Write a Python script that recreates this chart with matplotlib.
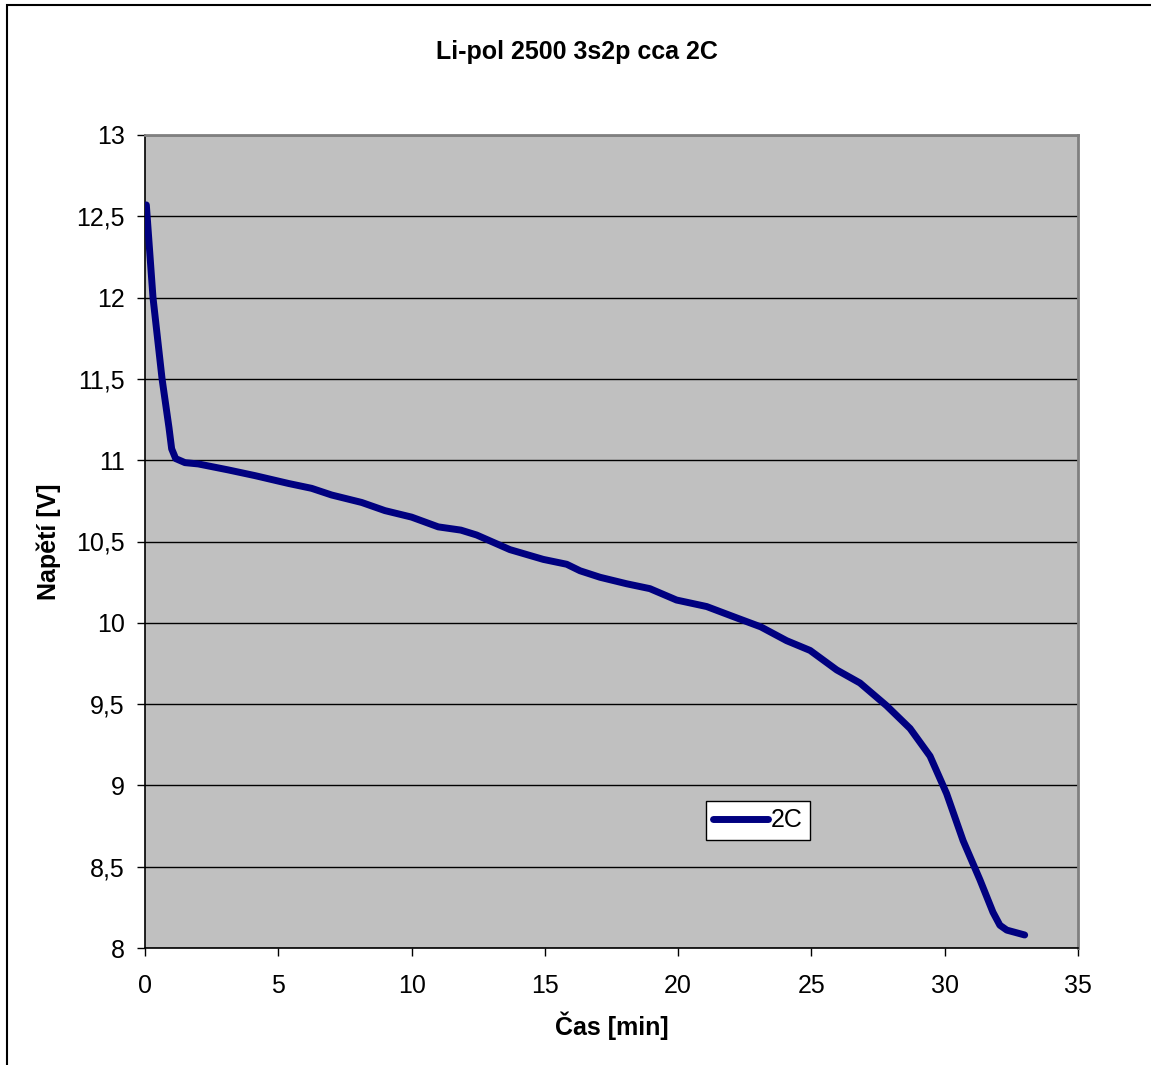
import numpy as np
import matplotlib.pyplot as plt
from matplotlib.patches import Rectangle
from matplotlib.ticker import FuncFormatter, MultipleLocator

# discharge curve
cas_min = [0.05, 0.3, 0.64, 0.9, 1.0, 1.15, 1.5, 2.0, 3.13, 4.13, 5.38, 6.25,
           7.0, 8.13, 9.0, 10.0, 11.0, 11.85, 12.44, 13.69, 14.94, 15.82,
           16.32, 17.07, 18.07, 18.94, 19.94, 21.07, 22.2, 23.1, 24.07, 24.95,
           25.95, 26.82, 27.82, 28.7, 29.45, 30.07, 30.69, 31.32, 31.81, 32.07,
           32.33, 33.0]
napeti_v = [12.57, 12.0, 11.5, 11.2, 11.07, 11.01, 10.985, 10.977, 10.94,
            10.905, 10.857, 10.827, 10.786, 10.74, 10.69, 10.65, 10.59, 10.57,
            10.54, 10.45, 10.39, 10.36, 10.32, 10.28, 10.24, 10.21, 10.14,
            10.10, 10.03, 9.975, 9.89, 9.83, 9.71, 9.63, 9.49, 9.35, 9.18,
            8.95, 8.66, 8.42, 8.22, 8.14, 8.11, 8.08]

plt.rcParams['font.family'] = ['Liberation Sans', 'DejaVu Sans']

fig = plt.figure(figsize=(11.51, 10.65), dpi=100)
ax = fig.add_axes([145/1151, 1 - 948/1065, 933/1151, 813/1065])

# outer chart border (right/bottom run off the picture)
fig.patches.append(Rectangle((7/1151, -0.05), 1.1, 1.05 - 5.5/1065,
                             transform=fig.transFigure, fill=False,
                             edgecolor='black', linewidth=1.5, clip_on=False))

ax.set_facecolor('#c0c0c0')
ax.plot(cas_min, napeti_v, color='#000080', linewidth=5,
        solid_capstyle='round', solid_joinstyle='round', label='2C', zorder=3)

ax.set_xlim(0, 35)
ax.set_ylim(8, 13)
ax.xaxis.set_major_locator(MultipleLocator(5))
ax.yaxis.set_major_locator(MultipleLocator(0.5))
ax.yaxis.set_major_formatter(FuncFormatter(
    lambda v, p: (f"{v:g}").replace('.', ',')))
ax.yaxis.grid(True, color='black', linewidth=1.0)
ax.set_axisbelow(True)

ax.tick_params(direction='out', length=6, width=1, labelsize=18,
               colors='black')
ax.tick_params(axis='x', pad=12.5)
ax.tick_params(axis='y', pad=8.5)
for s in ('left', 'bottom'):
    ax.spines[s].set_color('black')
    ax.spines[s].set_linewidth(1.2)
for s in ('top', 'right'):
    ax.spines[s].set_color('#808080')
    ax.spines[s].set_linewidth(2)

ax.set_xlabel('Čas [min]', fontsize=18, fontweight='bold', labelpad=10)
ax.set_ylabel('Napětí [V]', fontsize=18, fontweight='bold', labelpad=11)
fig.text(577/1151, 1 - 52/1065, 'Li-pol 2500 3s2p cca 2C', fontsize=18,
         fontweight='bold', ha='center', va='center')

leg = ax.legend(loc='center', bbox_to_anchor=(0.657, 0.157), fontsize=18,
                frameon=True, fancybox=False, handlelength=2.2,
                handletextpad=0.1, borderpad=0.3, borderaxespad=0)
leg.get_frame().set_edgecolor('black')
leg.get_frame().set_linewidth(1)
leg.get_frame().set_facecolor('white')
leg.get_frame().set_alpha(1)

fig.savefig('out.png', dpi=100)
